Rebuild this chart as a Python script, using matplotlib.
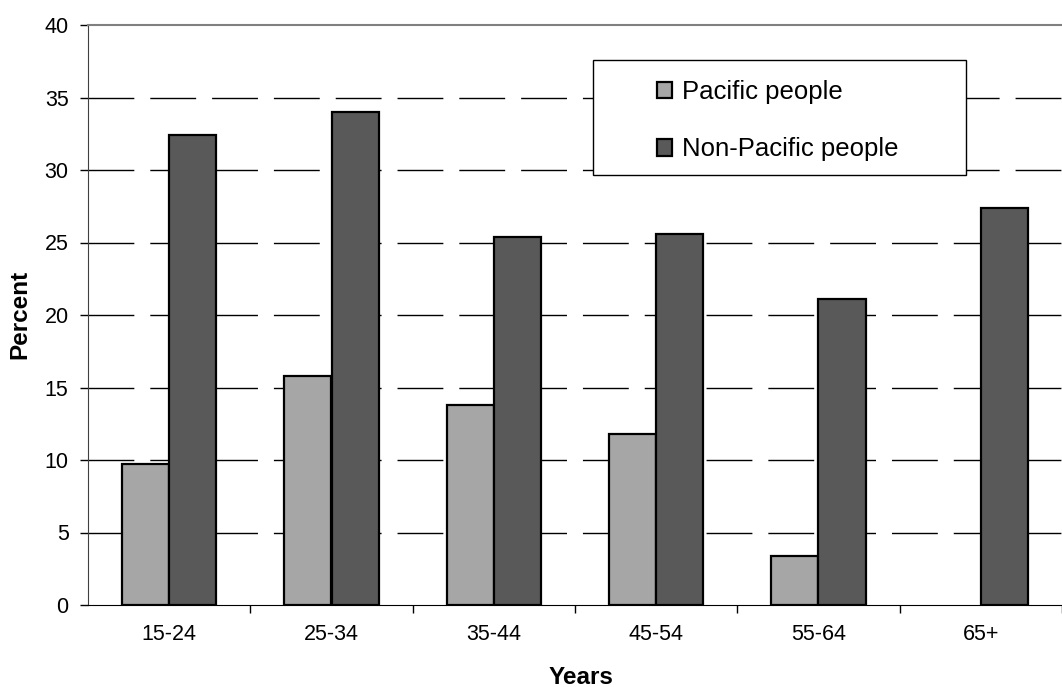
import matplotlib.pyplot as plt
from matplotlib.patches import Rectangle
import numpy as np

plt.rcParams['font.family'] = ['Liberation Sans', 'DejaVu Sans']

# data (no Pacific bar shown for 65+)
age_groups = ['15-24', '25-34', '35-44', '45-54', '55-64', '65+']
pacific = [9.7, 15.8, 13.8, 11.8, 3.4, np.nan]
non_pacific = [32.4, 34.0, 25.4, 25.6, 21.1, 27.4]
series_names = ['Pacific people', 'Non-Pacific people']

W, H = 1062, 687
fig = plt.figure(figsize=(W / 100, H / 100), dpi=100)
ax = fig.add_axes([88 / W, (H - 605) / H, (W - 88) / W, 580 / H])

x = np.arange(len(age_groups))
bw = 0.29
ax.bar(x - bw / 2, pacific, bw, color='#a6a6a6', edgecolor='black', linewidth=1.6,
       label=series_names[0], zorder=3)
ax.bar(x + bw / 2, non_pacific, bw, color='#595959', edgecolor='black', linewidth=1.6,
       label=series_names[1], zorder=3)

# one category is ~164 px wide; the image crops the right end of the plot area
ax.set_xlim(-0.5, -0.5 + (W - 88) / 164.4)
ax.set_ylim(0, 40)
ax.set_yticks(range(0, 41, 5))
ax.set_xticks(x)
ax.set_xticklabels(age_groups)
ax.set_xticks(np.arange(len(age_groups)) + 0.5, minor=True)
ax.tick_params(axis='x', which='major', length=0, pad=14, labelsize=15.5)
ax.tick_params(axis='x', which='minor', length=6, width=1, direction='out')
ax.tick_params(axis='y', length=6, width=1, pad=8, labelsize=15.5)

for v in range(5, 40, 5):
    ax.axhline(v, color='black', linewidth=1.0, linestyle=(0, (33, 11.5)), zorder=1)

ax.spines['right'].set_visible(False)
ax.spines['top'].set_color('#808080')
ax.spines['top'].set_linewidth(1.5)
ax.spines['left'].set_color('#404040')
ax.spines['bottom'].set_color('black')

fig.text(20 / W, 1 - 314 / H, 'Percent', fontweight='bold', fontsize=17.5,
         rotation=90, ha='center', va='center')
fig.text(581 / W, 1 - 677 / H, 'Years', fontweight='bold', fontsize=17.5,
         ha='center', va='center')

# legend box
fig.add_artist(Rectangle((593 / W, 1 - 175 / H), (966 - 593) / W, 115 / H,
                         transform=fig.transFigure, facecolor='white', edgecolor='black',
                         linewidth=1.0, zorder=5))
leg = fig.legend(loc='upper left', bbox_to_anchor=(657 / W, 1 - 80 / H), frameon=False,
                 fontsize=18.5, handlelength=0.6, handleheight=0.6, handletextpad=0.36,
                 labelspacing=1.3, borderpad=0, borderaxespad=0)
leg.set_zorder(6)

fig.savefig('out.png', dpi=100)
